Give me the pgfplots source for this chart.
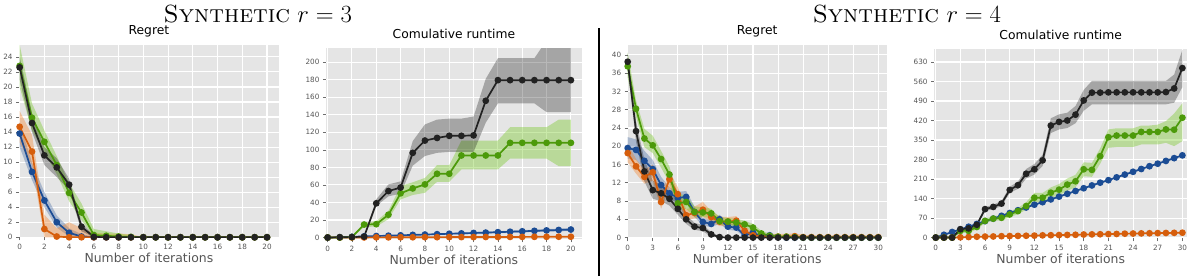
\documentclass[border=0pt]{standalone}
\usepackage{fontspec}
\newfontfamily\djv{DejaVu Sans}
\usepackage{pgfplots}
\pgfplotsset{compat=1.18}
\usepackage{pgfplotstable}
\usepgfplotslibrary{fillbetween}

\definecolor{cb}{RGB}{27,76,148}
\definecolor{co}{RGB}{214,94,12}
\definecolor{cg}{RGB}{76,154,10}
\definecolor{ck}{RGB}{34,34,34}
\definecolor{cbb}{RGB}{27,76,148}
\definecolor{cob}{RGB}{245,130,40}
\definecolor{cgb}{RGB}{120,200,40}
\definecolor{ckb}{RGB}{0,0,0}
\definecolor{ggbg}{RGB}{229,229,229}
\definecolor{labgray}{RGB}{85,85,85}
\definecolor{tickgray}{RGB}{110,110,110}

% r=3 regret
\pgfplotstableread{
x b bl bh o ol oh g gl gh k kl kh
0 13.8 12.0 15.3 14.7 12.6 16.8 22.8 20.0 25.6 22.6 21.0 24.0
1 8.7 7.6 9.9 11.4 9.6 13.6 15.9 14.2 17.8 15.2 14.0 16.5
2 4.9 4.0 6.0 1.1 0.0 3.0 12.7 11.3 14.2 10.9 9.6 12.0
3 2.0 1.3 2.9 0.1 0.0 1.2 9.6 8.4 10.8 9.3 8.0 10.5
4 0.6 0.1 1.2 0.0 0.0 2.0 5.9 4.8 7.2 7.0 6.3 7.8
5 0.1 0.0 0.4 0.0 0.0 1.2 3.3 2.3 4.5 1.4 0.8 2.0
6 0.0 0.0 0.1 0.0 0.0 0.6 0.3 0.0 1.1 0.05 0.0 0.2
7 0 0 0 0 0 0.5 0.2 0 0.8 0 0 0
8 0 0 0 0 0 0.5 0.1 0 0.5 0 0 0
9 0 0 0 0 0 0.4 0.05 0 0.3 0 0 0
10 0 0 0 0 0 0 0 0 0 0 0 0
11 0 0 0 0 0 0 0 0 0 0 0 0
12 0 0 0 0 0 0 0 0 0 0 0 0
13 0 0 0 0 0 0 0 0 0 0 0 0
14 0 0 0 0 0 0 0 0 0 0 0 0
15 0 0 0 0 0 0 0 0 0 0 0 0
16 0 0 0 0 0 0 0 0 0 0 0 0
17 0 0 0 0 0 0 0 0 0 0 0 0
18 0 0 0 0 0 0 0 0 0 0 0 0
19 0 0 0 0 0 0 0 0 0 0 0 0
20 0 0 0 0 0 0 0 0 0 0 0 0
}\tA

% r=3 runtime
\pgfplotstableread{
x b bl bh o ol oh g gl gh k kl kh
0 0 0 0.3 0 0 0 0 0 0 0 0 0
1 0.4 0.2 0.7 0 0 0 0 0 0 0.3 0 0.6
2 0.8 0.5 1.2 0 0 0 0.5 0 1.0 0.5 0.2 0.8
3 1.3 0.9 1.7 0.1 0 0.2 14.8 12.0 17.0 1.0 0.5 1.5
4 1.7 1.2 2.2 0.2 0.1 0.3 15.2 12.5 18.5 39.0 36.0 43.6
5 2.1 1.5 2.7 0.2 0.1 0.3 26.0 21.0 30.5 53.0 47.0 60.6
6 2.5 1.9 3.1 0.3 0.2 0.4 50.4 43.5 58.7 57.0 50.0 64.0
7 3.0 2.3 3.7 0.3 0.2 0.4 56.0 48.5 63.0 96.6 82.0 110.0
8 3.4 2.7 4.1 0.4 0.3 0.5 60.6 51.0 68.0 110.6 93.0 129.0
9 3.8 3.0 4.6 0.4 0.3 0.5 72.7 63.6 82.6 113.6 96.6 134.5
10 4.3 3.4 5.2 0.5 0.3 0.6 72.7 63.6 82.6 116.0 97.7 135.6
11 4.7 3.8 5.6 0.5 0.4 0.6 93.6 77.7 110.6 116.0 97.7 135.6
12 5.2 4.2 6.2 0.5 0.4 0.7 93.6 77.7 110.6 116.5 97.7 138.0
13 5.6 4.5 6.7 0.6 0.4 0.7 93.6 77.7 110.6 156.0 131.0 181.0
14 6.1 4.9 7.3 0.6 0.5 0.8 93.6 77.7 110.6 179.5 153.0 204.5
15 6.6 5.3 7.9 0.7 0.5 0.8 108.0 90.0 125.8 179.5 153.0 204.5
16 7.1 5.8 8.4 0.7 0.5 0.9 108.0 90.0 125.8 179.5 153.0 204.5
17 7.6 6.2 9.0 0.8 0.6 0.9 108.0 90.0 125.8 179.5 153.0 204.5
18 8.1 6.6 9.6 0.8 0.6 1.0 108.0 90.0 125.8 179.5 143.0 225.0
19 8.6 7.0 10.2 0.9 0.7 1.0 108.0 81.4 134.5 179.5 143.0 225.0
20 9.1 7.4 10.8 0.9 0.7 1.1 108.0 81.4 134.5 179.5 143.0 225.0
}\tB

% r=4 regret
\pgfplotstableread{
x b bl bh o ol oh g gl gh k kl kh
0 19.6 17.3 22.0 18.5 16.5 20.5 37.5 35.0 40.5 38.5 37.0 40.2
1 19.2 17.0 21.5 15.6 14.0 17.2 28.2 26.5 30.0 23.3 21.0 25.5
2 16.8 14.8 19.0 13.3 11.8 14.8 21.7 19.8 23.8 14.5 12.3 17.0
3 15.0 13.0 17.0 14.3 12.5 16.0 20.2 18.5 22.3 10.4 8.5 12.5
4 11.5 10.0 13.3 7.8 6.3 9.5 17.2 15.3 19.0 9.7 8.0 11.5
5 9.7 8.5 11.0 12.8 11.0 14.5 13.8 12.0 15.5 8.5 7.0 10.0
6 8.7 7.5 10.0 9.5 8.0 11.0 7.5 6.0 9.5 6.3 5.0 7.8
7 8.9 7.6 10.2 4.9 3.8 6.2 7.8 6.3 9.3 4.0 3.0 5.0
8 5.6 4.5 6.8 5.4 4.2 6.8 5.6 4.5 6.8 2.4 1.7 3.2
9 3.4 2.6 4.3 6.1 4.5 7.8 5.5 4.5 6.7 2.1 1.4 2.8
10 3.0 2.3 3.8 4.5 3.5 5.8 5.3 4.3 6.3 0.7 0.2 1.2
11 4.0 3.0 5.0 3.5 2.5 4.6 3.6 2.8 4.5 0.1 0.0 0.3
12 2.4 1.7 3.2 3.5 2.6 4.5 3.5 2.7 4.3 0 0 0
13 2.2 1.5 3.0 3.7 2.8 4.7 3.3 2.5 4.1 0 0 0
14 0.5 0.1 1.0 1.5 0.8 2.4 2.9 2.1 3.7 0 0 0
15 1.1 0.5 1.8 0.5 0.1 1.2 2.2 1.5 3.0 0 0 0
16 0.2 0.0 0.6 0.3 0.0 0.9 0.9 0.4 1.5 0 0 0
17 0.5 0.1 1.0 0.2 0.0 0.8 0.4 0.1 0.9 0 0 0
18 0.1 0.0 0.4 0.2 0.0 0.8 0.2 0.0 0.6 0 0 0
19 0 0 0.2 0.2 0.0 0.8 0.2 0.0 0.5 0 0 0
20 0 0 0 0.3 0.0 0.9 0.1 0.0 0.4 0 0 0
21 0 0 0 0.1 0.0 0.6 0 0 0.2 0 0 0
22 0 0 0 0.1 0 0.5 0 0 0.1 0 0 0
23 0 0 0 0.1 0 0.5 0 0 0.1 0 0 0
24 0 0 0 0.1 0 0.5 0 0 0.1 0 0 0
25 0 0 0 0.1 0 0.5 0 0 0.1 0 0 0
26 0 0 0 0.1 0 0.5 0 0 0.1 0 0 0
27 0 0 0 0.1 0 0.5 0 0 0.1 0 0 0
28 0 0 0 0.1 0 0.5 0 0 0.1 0 0 0
29 0 0 0 0.1 0 0.5 0 0 0.1 0 0 0
30 0 0 0 0.1 0 0.5 0 0 0.1 0 0 0
}\tC

% r=4 runtime
\pgfplotstableread{
x b bl bh o ol oh g gl gh k kl kh
0 0 0 0 0 0 0 0 0 0 0 0 0
1 10 8 12 0 0 0 0 0 0 0 0 0
2 20 17 23 0 0 0 0 0 0 0 0 0
3 29 26 32 1 0 2 24 18 30 30 27 33
4 39 36 42 2 1 3 24 16 32 33 29 37
5 49 46 52 3 2 4 38 30 46 46 40 52
6 59 56 62 3.5 2.5 4.5 60 52 68 102 95 109
7 68 65 71 4 3 5 68 60 77 110 102 118
8 78 75 81 5 4 6 71 62 81 122 113 131
9 88 85 91 5.5 4.5 6.5 83 73 94 171 160 182
10 98 95 101 6 5 7 95 84 106 188 175 201
11 108 105 111 6.5 5.5 7.5 113 100 127 229 212 246
12 118 115 121 7 6 8 143 127 160 245 226 264
13 127 124 130 8 7 9 143 127 160 277 257 297
14 137 134 140 8.5 7.5 9.5 161 143 180 402 375 428
15 147 144 150 9 8 10 172 152 192 415 388 442
16 157 154 160 9.5 8.5 10.5 190 168 212 420 393 448
17 167 164 170 10 9 11 202 180 225 441 410 472
18 177 174 180 11 10 12 245 220 270 492 455 530
19 187 184 190 11.5 10.5 12.5 243 218 268 520 478 562
20 197 194 200 12 11 13 292 265 320 520 478 562
21 206 203 209 12.5 11.5 13.5 360 322 388 521 478 562
22 216 213 219 13 12 14 366 325 392 521 478 562
23 226 223 229 14 13 15 366 325 392 521 478 562
24 236 233 239 14.5 13.5 15.5 366 325 392 521 478 562
25 246 243 249 15 14 16 379 334 402 521 478 562
26 256 253 259 15.5 14.5 16.5 379 334 402 521 478 562
27 265 262 268 16 15 17 379 334 405 521 478 562
28 275 272 278 16.5 15.5 17.5 388 340 418 522 478 562
29 285 282 288 17 16 18 387 328 445 535 484 585
30 295 292 298 17.5 16.5 18.5 430 346 482 608 540 674
}\tD

\newcommand{\band}[5]{% table, prefix, colour, id, opacity
  \addplot[draw=none, forget plot, name path=#4hi] table[x=x, y=#2h]{#1};
  \addplot[draw=none, forget plot, name path=#4lo] table[x=x, y=#2l]{#1};
  \addplot[fill=#3, fill opacity=#5, draw=none, forget plot] fill between[of=#4hi and #4lo];
}
\newcommand{\sline}[3]{% table, column, colour
  \addplot[color=#3, line width=1.7bp, mark=*, mark size=2.5bp, mark options={solid, fill=#3, draw=#3}] table[x=x, y=#2]{#1};
}
\newcommand{\allseries}[2]{%
  \band{#1}{b}{cbb}{#2b}{0.3}
  \band{#1}{o}{cob}{#2o}{0.38}
  \band{#1}{g}{cgb}{#2g}{0.4}
  \band{#1}{k}{ckb}{#2k}{0.28}
  \sline{#1}{b}{cb}
  \sline{#1}{o}{co}
  \sline{#1}{g}{cg}
  \sline{#1}{k}{ck}
}

\pgfplotsset{gg/.style={
  scale only axis, anchor=south west,
  axis background/.style={fill=ggbg},
  axis line style={draw=none},
  grid=major, major grid style={white, line width=1.1bp},
  tick style={color=tickgray, line width=0.6bp},
  major tick length=3bp, tick align=outside,
  xtick pos=bottom, ytick pos=left,
  /pgf/number format/assume math mode=true,
  ticklabel style={font=\djv\fontsize{7.3}{7.3}\selectfont, text=labgray},
  title style={font=\djv\fontsize{12.4}{13}\selectfont, at={(axis description cs:0.5,1)}, anchor=base, yshift=4bp},
  xlabel style={font=\djv\fontsize{12.5}{13}\selectfont, text=labgray, at={(axis description cs:0.5,0)}, anchor=base, yshift=-25bp},
  xlabel={Number of iterations},
}}

\begin{document}
\begin{tikzpicture}
\path (0,0) rectangle (1192bp,277bp);

\begin{axis}[gg, at={(15.5bp,39bp)}, width=260.5bp, height=193bp,
  xmin=-0.05, xmax=20.95, ymin=0, ymax=25.6, xtick distance=2, ytick distance=2,
  title={Regret}]
  \allseries{\tA}{pa}
\end{axis}

\begin{axis}[gg, at={(323.3bp,37bp)}, width=256.7bp, height=191.7bp,
  xmin=-0.14, xmax=20.9, ymin=-2, ymax=216, xtick distance=2, ytick distance=20,
  title={Comulative runtime}]
  \allseries{\tB}{pb}
\end{axis}

\begin{axis}[gg, at={(626bp,38bp)}, width=259.7bp, height=194bp,
  xmin=0, xmax=31, ymin=-0.15, ymax=42.2, xtick distance=3, ytick distance=4,
  title={Regret}]
  \allseries{\tC}{pc}
\end{axis}

\begin{axis}[gg, at={(933.3bp,38bp)}, width=254bp, height=189.7bp,
  xmin=-0.2, xmax=30.6, ymin=-2.5, ymax=676, xtick distance=3, ytick distance=70,
  title={Comulative runtime}]
  \allseries{\tD}{pd}
\end{axis}

\draw[line width=1.5bp, black] (597bp,0bp) -- (597bp,249bp);
\node[font=\fontsize{25}{25}\selectfont, anchor=base] at (255bp,254bp) {\textsc{Synthetic} $r=3$};
\node[font=\fontsize{25}{25}\selectfont, anchor=base] at (906bp,254bp) {\textsc{Synthetic} $r=4$};
\end{tikzpicture}
\end{document}
